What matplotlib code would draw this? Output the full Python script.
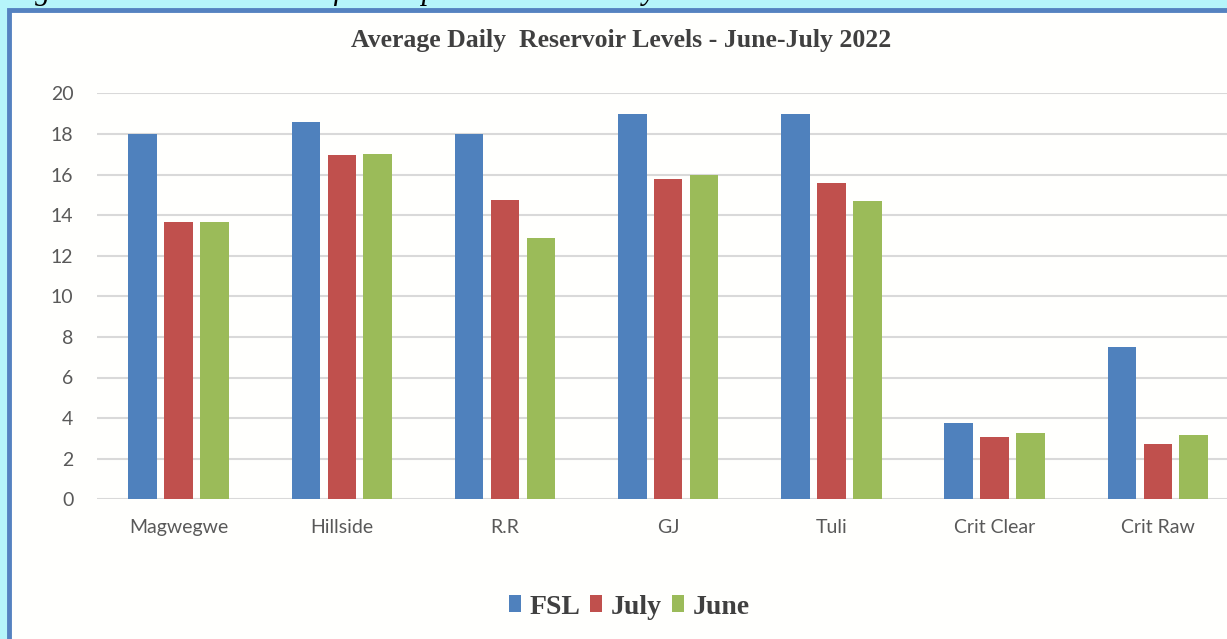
import matplotlib
matplotlib.use("Agg")
import matplotlib.pyplot as plt
from matplotlib.patches import Rectangle
import numpy as np

categories = ["Magwegwe", "Hillside", "R.R", "GJ", "Tuli", "Crit Clear", "Crit Raw"]
fsl = [18.0, 18.6, 18.0, 19.0, 19.0, 3.75, 7.5]
july = [13.65, 16.95, 14.75, 15.8, 15.6, 3.05, 2.72]
june = [13.65, 17.0, 12.85, 16.0, 14.7, 3.25, 3.15]
series_names = ["FSL", "July", "June"]
yticks = list(range(0, 21, 2))

W, H = 1227, 639
fig = plt.figure(figsize=(W / 100, H / 100), dpi=100)
fig.patch.set_facecolor("#b6f5fa")

# inner white panel with blue frame
fig.patches.append(Rectangle((9 / W, -0.1), 1.2, (H - 9.5) / H + 0.1, transform=fig.transFigure,
                             facecolor="#fffffd", edgecolor="#5582c0", linewidth=3.5, zorder=-5))

# clipped caption at very top
fig.text(8 / W, 1 + 1 / H, "Figure 3: Reservoir levels for the period June to July",
         family="Liberation Serif", style="italic", fontsize=22, color="black",
         ha="left", va="baseline", zorder=-10)

left_px, right_px = 97, 97 + 7 * 163.2
top_px, bot_px = 93.3, 499.3
ax = fig.add_axes([left_px / W, (H - bot_px) / H, (right_px - left_px) / W, (bot_px - top_px) / H])
ax.set_facecolor("none")
ax.set_zorder(2)

x = np.arange(len(categories))
bw = 0.175
off = 0.22
colors = ["#4f81bd", "#c0504d", "#9bbb59"]
bars = []
for i, (vals, name, c) in enumerate(zip([fsl, july, june], series_names, colors)):
    b = ax.bar(x + (i - 1) * off, vals, width=bw, color=c, label=name, zorder=3)
    bars.append(b)

ax.set_xlim(-0.5, len(categories) - 0.5)
ax.set_ylim(0, 20)
ax.set_yticks(yticks)
ax.set_xticks(x)
ax.set_xticklabels(categories)
for s in ax.spines.values():
    s.set_visible(False)
ax.grid(axis="y", color="#d9d9d9", linewidth=1.5, zorder=0)
ax.set_axisbelow(True)
ax.tick_params(axis="both", length=0, labelsize=14, labelcolor="#595959")
ax.tick_params(axis="x", pad=14)
ax.tick_params(axis="y", pad=17)
for t in ax.get_xticklabels() + ax.get_yticklabels():
    t.set_family("Lato")

fig.text(621 / W, 1 - 47 / H, "Average Daily  Reservoir Levels - June-July 2022",
         family="Liberation Serif", weight="bold", fontsize=18.5, color="#404040",
         ha="center", va="baseline")

leg = fig.legend(handles=bars, labels=series_names, loc="center",
                 bbox_to_anchor=(629 / W, 1 - 607 / H), ncol=3, frameon=False,
                 handlelength=0.45, handleheight=0.55, handletextpad=0.3, columnspacing=0.35,
                 prop={"family": "Liberation Serif", "weight": "bold", "size": 20})
for t in leg.get_texts():
    t.set_color("#404040")

fig.savefig("out.png", dpi=100, facecolor=fig.get_facecolor())
